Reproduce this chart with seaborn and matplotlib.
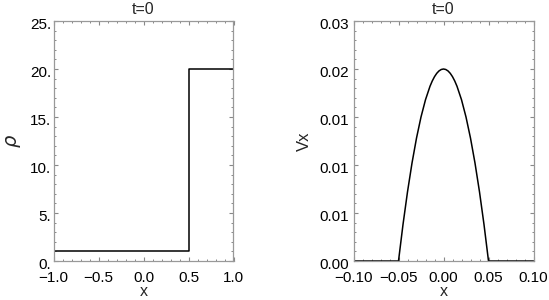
import matplotlib
matplotlib.use("Agg")
import matplotlib.pyplot as plt
import matplotlib.transforms as mtransforms
import seaborn as sns
from matplotlib.ticker import MultipleLocator

# Data
rho_x = [-1.0, 0.5, 0.5, 1.0]
rho_y = [1.0, 1.0, 20.0, 20.0]

vx_x = [-0.10, -0.05, -0.045, -0.04, -0.035, -0.03, -0.025, -0.02, -0.015, -0.0125, -0.01,
        -0.0075, -0.005, -0.0025, 0.0, 0.0025, 0.005, 0.0075, 0.01, 0.0125, 0.015, 0.02,
        0.025, 0.03, 0.035, 0.04, 0.045, 0.05, 0.10]
vx_y = [0.0, 0.0, 0.0038, 0.0072, 0.0102, 0.0128, 0.0150, 0.0168, 0.0182, 0.01875, 0.0192,
        0.01955, 0.0198, 0.01995, 0.0200, 0.01995, 0.0198, 0.01955, 0.0192, 0.01875, 0.0182,
        0.0168, 0.0150, 0.0128, 0.0102, 0.0072, 0.0038, 0.0, 0.0]

left_xticks = [-1.0, -0.5, 0.0, 0.5, 1.0]
left_xlabels = ["\u22121.0", "\u22120.5", "0.0", "0.5", "1.0"]
left_yticks = [0, 5, 10, 15, 20, 25]
left_ylabels = ["0.", "5.", "10.", "15.", "20.", "25."]

right_xticks = [-0.10, -0.05, 0.0, 0.05, 0.10]
right_xlabels = ["\u22120.10", "\u22120.05", "0.00", "0.05", "0.10"]
right_yticks = [0, 0.005, 0.010, 0.015, 0.020, 0.025]
right_ylabels = ["0.00", "0.01", "0.01", "0.01", "0.02", "0.03"]

sns.set_style("white")
plt.rcParams['font.family'] = ['Liberation Sans', 'DejaVu Sans']
plt.rcParams['mathtext.fontset'] = 'dejavusans'

fig = plt.figure(figsize=(5.49, 3.0), dpi=100)
ax1 = fig.add_axes([53.5 / 549, 39 / 300, 180 / 549, 240 / 300])
ax2 = fig.add_axes([353.5 / 549, 39 / 300, 180 / 549, 240 / 300])

sns.lineplot(x=rho_x, y=rho_y, ax=ax1, color="black", linewidth=1.1,
             sort=False, estimator=None)
sns.lineplot(x=vx_x, y=vx_y, ax=ax2, color="black", linewidth=1.1,
             sort=False, estimator=None)

def style(ax, xticks, xlabels, yticks, ylabels, xminor, yminor, xlim, ylim, ypad):
    ax.set_xlim(*xlim)
    ax.set_ylim(*ylim)
    ax.set_xticks(xticks)
    ax.set_xticklabels(xlabels)
    ax.set_yticks(yticks)
    ax.set_yticklabels(ylabels)
    ax.xaxis.set_minor_locator(MultipleLocator(xminor))
    ax.yaxis.set_minor_locator(MultipleLocator(yminor))
    ax.tick_params(which="both", direction="in", top=True, right=True,
                   bottom=True, left=True,
                   colors="#888888", labelcolor="black", labelsize=11)
    ax.tick_params(which="major", length=3.2, width=0.8)
    ax.tick_params(which="minor", length=1.6, width=0.7)
    ax.tick_params(axis="x", which="major", pad=7)
    ax.tick_params(axis="y", which="major", pad=ypad)
    for s in ax.spines.values():
        s.set_color("#999999")
        s.set_linewidth(0.9)
    ax.set_title("t=0", fontsize=11.5, pad=5)
    ax.set_xlabel("x", fontsize=11.5, va="center")
    ax.xaxis.set_label_coords(0.5, -0.128)
    # IDL-like labels sit a little below their tick
    shift = mtransforms.ScaledTranslation(0, -1.5 / 72, fig.dpi_scale_trans)
    for lab in ax.get_yticklabels():
        lab.set_transform(lab.get_transform() + shift)

style(ax1, left_xticks, left_xlabels, left_yticks, left_ylabels, 0.1, 1,
      (-1.0, 1.0), (0, 25), 1.5)
ax1.set_ylabel(r"$\rho$", fontsize=14, va="center")
ax1.yaxis.set_label_coords(-0.225, 0.5)

style(ax2, right_xticks, right_xlabels, right_yticks, right_ylabels, 0.01, 0.001,
      (-0.10, 0.10), (0, 0.025), 3)
ax2.set_ylabel("Vx", fontsize=12, va="center")
ax2.yaxis.set_label_coords(-0.275, 0.5)

fig.savefig("out.png", dpi=100)
